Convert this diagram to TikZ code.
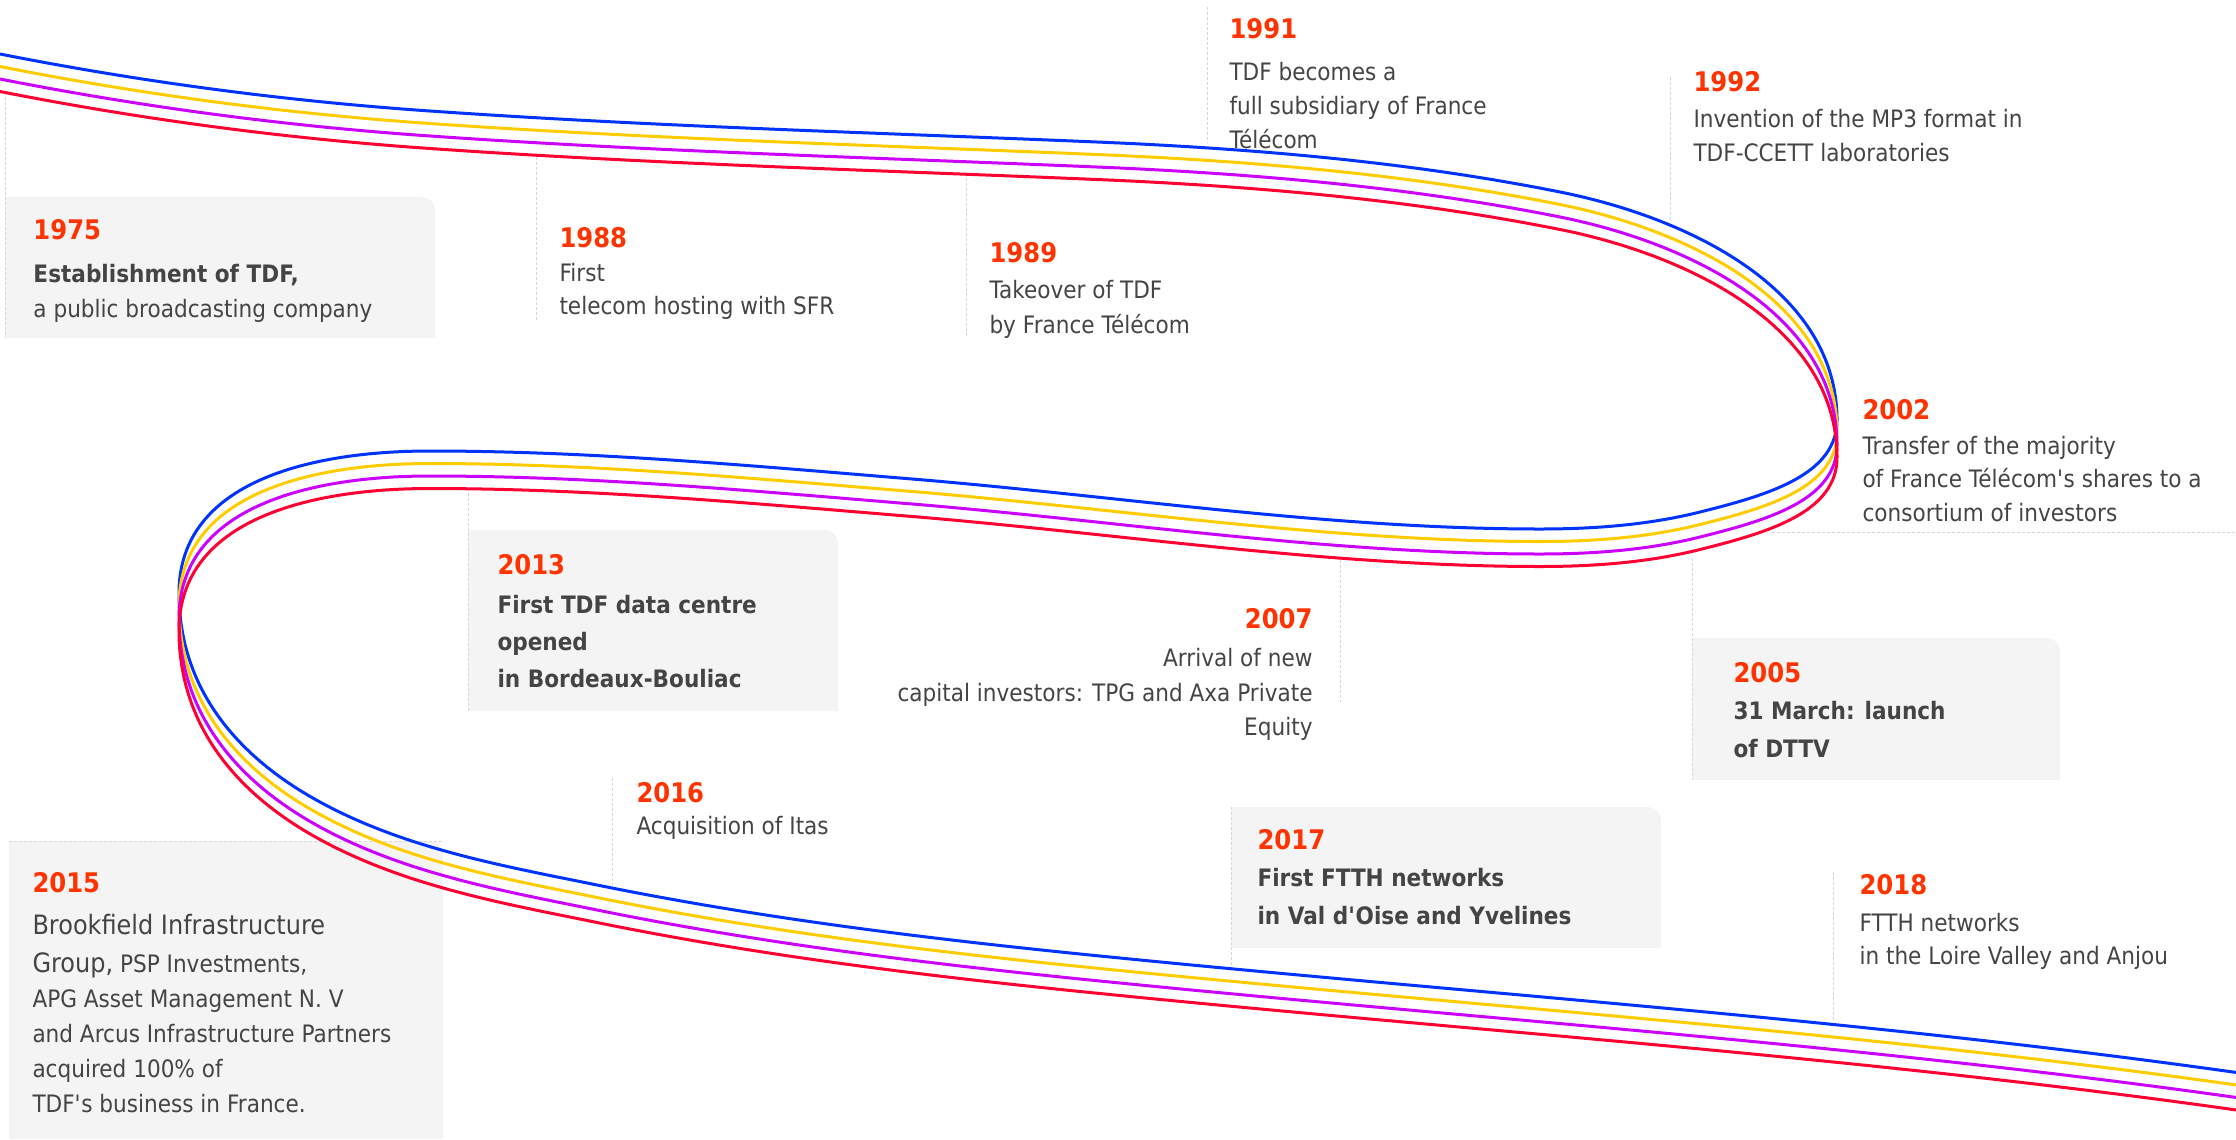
\documentclass[tikz,border=0pt]{standalone}
\usepackage{fontspec}
\setmainfont{DejaVu Sans}[FakeStretch=0.9]
\definecolor{tdfblue}{RGB}{0,51,255}
\definecolor{tdfyellow}{RGB}{255,204,0}
\definecolor{tdfpurple}{RGB}{204,0,255}
\definecolor{tdfred}{RGB}{255,0,51}
\definecolor{tdforange}{RGB}{255,51,0}
\definecolor{tdfgrey}{RGB}{68,68,68}
\definecolor{boxgrey}{RGB}{244,244,244}
\definecolor{leadgrey}{RGB}{214,214,214}
\tikzset{every picture/.style={line width=0.75pt}}
\tikzset{
  year/.style={anchor=base west, inner sep=0pt, text=tdforange, font=\fontsize{20.25}{24}\selectfont\bfseries},
  body/.style={anchor=base west, inner sep=0pt, text=tdfgrey, font=\fontsize{18}{22}\selectfont},
  bodybold/.style={body, font=\fontsize{18}{22}\selectfont\bfseries},
  bodybig/.style={body, font=\fontsize{20}{24}\selectfont},
  lead/.style={draw=leadgrey, line width=0.75pt, dash pattern=on 2.25pt off 1.5pt},
  ribbon/.style={line width=2.25pt}
}
% grey card, top right corner rounded
\newcommand{\tdfcard}[4]{\fill[boxgrey] (#1,#4) -- (#1,#2) -- ({#3-13},#2) arc[start angle=-90, end angle=0, radius=13] -- (#3,#4) -- cycle;}

\begin{document}
\begin{tikzpicture}[x=0.75pt,y=0.75pt,yscale=-1,xscale=1]
    \useasboundingbox (0,0) rectangle (2236,1139);

    %Shape: Cards
    \tdfcard{5}{197}{435}{338}
    \tdfcard{468}{530}{838}{711}
    \tdfcard{1692}{638}{2060}{780}
    \tdfcard{1231}{807}{1661}{948}
    \tdfcard{9}{841}{443}{1139}

    %Straight Lines: leaders
    \coordinate (a1975) at (5,97);     \coordinate (b1975) at (5,338);
    \coordinate (a1988) at (536,157);  \coordinate (b1988) at (536,320);
    \coordinate (a1989) at (966,173);  \coordinate (b1989) at (966,337);
    \coordinate (a1991) at (1207,7);   \coordinate (b1991) at (1207,143);
    \coordinate (a1992) at (1670,77);  \coordinate (b1992) at (1670,220);
    \coordinate (a2002) at (1772,532); \coordinate (b2002) at (2236,532);
    \coordinate (a2005) at (1692,558); \coordinate (b2005) at (1692,780);
    \coordinate (a2007) at (1340,560); \coordinate (b2007) at (1340,702);
    \coordinate (a2013) at (468,493);  \coordinate (b2013) at (468,711);
    \coordinate (a2015) at (9,841);    \coordinate (b2015) at (443,841);
    \coordinate (a2016) at (612,778);  \coordinate (b2016) at (612,887);
    \coordinate (a2017) at (1231,807); \coordinate (b2017) at (1231,967);
    \coordinate (a2018) at (1833,872); \coordinate (b2018) at (1833,1020);
    \foreach \yr in {1975,1988,1989,1991,1992,2002,2005,2007,2013,2015,2016,2017,2018}
      \draw [lead] (a\yr) -- (b\yr);

    %Shape: Ribbon, four strands shifted down
    \foreach \col/\off in {tdfblue/0,tdfyellow/12.5,tdfpurple/25,tdfred/37.5}{
      \draw [ribbon, color=\col, shift={(0,\off)}] (0,54) .. controls (142,82) and (285,101) .. (430,111)
        .. controls (660,127) and (890,133) .. (1120,143) .. controls (1268,150) and (1415,163) .. (1560,192)
        .. controls (1690,218) and (1837,290) .. (1837,420) .. controls (1837,475) and (1768,495) .. (1700,512)
        .. controls (1648,525) and (1594,529) .. (1540,529) .. controls (1326,529) and (1113,495) .. (900,478)
        .. controls (743,465) and (587,451) .. (430,451) .. controls (314,451) and (179,480) .. (179,593)
        .. controls (179,690) and (239,758) .. (320,802) .. controls (408,850) and (509,867) .. (607,887)
        .. controls (777,921) and (948,941) .. (1120,958) .. controls (1492,995) and (1866,1020) .. (2240,1073);
    }

    % Text Node
    \node (y1975) [year] at (33,239) {1975};
    \node (t1975a) [bodybold] at (33,282) {Establishment of TDF,};
    \node (t1975b) [body] at (33,317) {a public broadcasting company};
    % Text Node
    \node (y1988) [year] at (559,247) {1988};
    \node (t1988a) [body] at (559,281) {First};
    \node (t1988b) [body] at (559,314) {telecom hosting with SFR};
    % Text Node
    \node (y1989) [year] at (989,262) {1989};
    \node (t1989a) [body] at (989,298) {Takeover of TDF};
    \node (t1989b) [body] at (989,333) {by France Télécom};
    % Text Node
    \node (y1991) [year] at (1229,38) {1991};
    \node (t1991a) [body] at (1229,80) {TDF becomes a};
    \node (t1991b) [body] at (1229,114) {full subsidiary of France};
    \node (t1991c) [body] at (1229,148) {Télécom};
    % Text Node
    \node (y1992) [year] at (1693,91) {1992};
    \node (t1992a) [body] at (1693,127) {Invention of the MP3 format in};
    \node (t1992b) [body] at (1693,161) {TDF-CCETT laboratories};
    % Text Node
    \node (y2002) [year] at (1862,419) {2002};
    \node (t2002a) [body] at (1862,454) {Transfer of the majority};
    \node (t2002b) [body] at (1862,487) {of France Télécom\textquotesingle s shares to a};
    \node (t2002c) [body] at (1862,521) {consortium of investors};
    % Text Node
    \node (y2005) [year] at (1733,682) {2005};
    \node (t2005a) [bodybold] at (1733,719) {31 March: launch};
    \node (t2005b) [bodybold] at (1733,757) {of DTTV};
    % Text Node
    \node (y2007) [year, anchor=base east] at (1313,628) {2007};
    \node (t2007a) [body, anchor=base east] at (1313,666) {Arrival of new};
    \node (t2007b) [body, anchor=base east] at (1313,701) {capital investors: TPG and Axa Private};
    \node (t2007c) [body, anchor=base east] at (1313,735) {Equity};
    % Text Node
    \node (y2013) [year] at (497,574) {2013};
    \node (t2013a) [bodybold] at (497,613) {First TDF data centre};
    \node (t2013b) [bodybold] at (497,650) {opened};
    \node (t2013c) [bodybold] at (497,687) {in Bordeaux-Bouliac};
    % Text Node
    \node (y2015) [year] at (32,892) {2015};
    \node (t2015a) [bodybig] at (32,934) {Brookfield Infrastructure};
    \node (t2015b) [body] at (32,972) {{\fontsize{20}{24}\selectfont Group,} PSP Investments,};
    \node (t2015c) [body] at (32,1007) {APG Asset Management N. V};
    \node (t2015d) [body] at (32,1042) {and Arcus Infrastructure Partners};
    \node (t2015e) [body] at (32,1077) {acquired 100\% of};
    \node (t2015f) [body] at (32,1112) {TDF\textquotesingle s business in France.};
    % Text Node
    \node (y2016) [year] at (636,802) {2016};
    \node (t2016a) [body] at (636,834) {Acquisition of Itas};
    % Text Node
    \node (y2017) [year] at (1257,849) {2017};
    \node (t2017a) [bodybold] at (1257,886) {First FTTH networks};
    \node (t2017b) [bodybold] at (1257,924) {in Val d\textquotesingle Oise and Yvelines};
    % Text Node
    \node (y2018) [year] at (1859,894) {2018};
    \node (t2018a) [body] at (1859,931) {FTTH networks};
    \node (t2018b) [body] at (1859,964) {in the Loire Valley and Anjou};
\end{tikzpicture}
\end{document}
